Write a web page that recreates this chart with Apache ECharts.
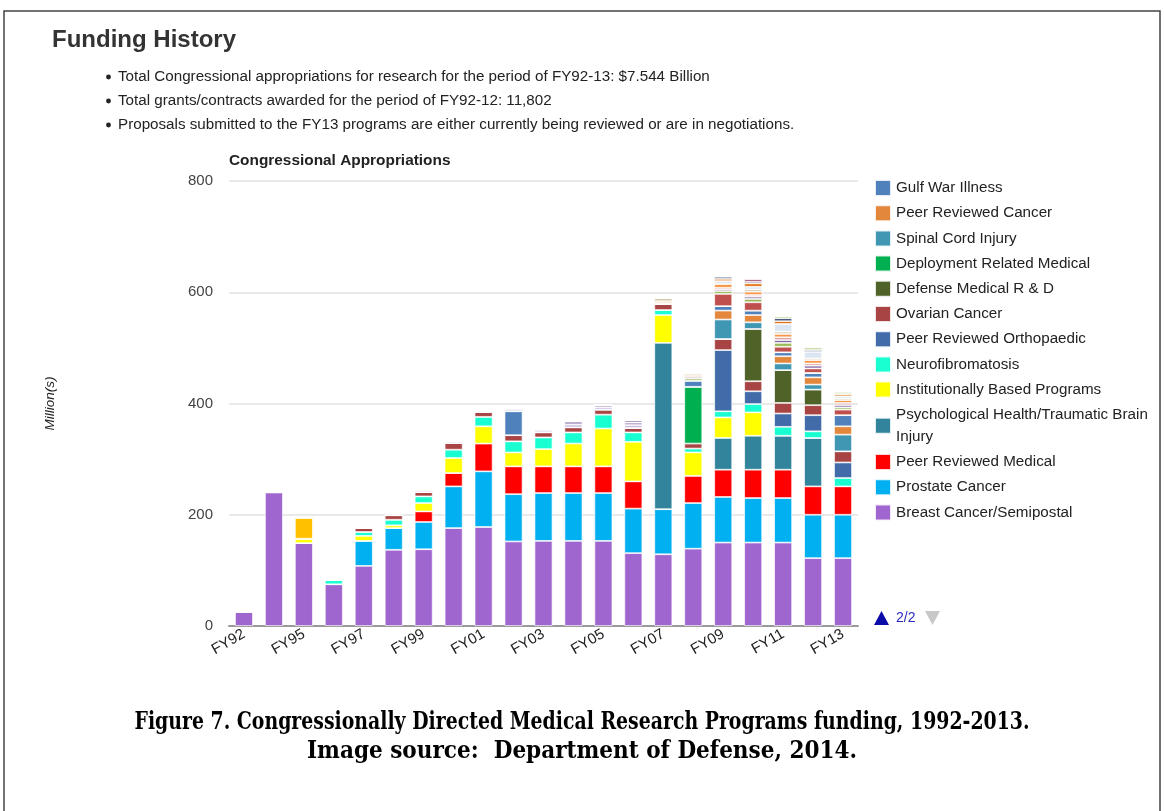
<!DOCTYPE html>
<html><head><meta charset="utf-8">
<script src="https://cdn.jsdelivr.net/npm/echarts@6.0.0/dist/echarts.min.js"></script>
<style>html,body{margin:0;padding:0;background:#fff}#c{width:1164px;height:811px}</style>
</head><body><div id="c"></div><script>
// ---- DATA ----
const categories = ['FY92','FY93','FY95','FY96','FY97','FY98','FY99','FY00','FY01','FY02','FY03','FY04','FY05','FY06','FY07','FY08','FY09','FY10','FY11','FY12','FY13'];
const yTicks = [0, 200, 400, 600, 800];
// stack order bottom -> top
const breastCancer   = [25,240,149,75,108,137,138,176,178,152,153,153,153,131,129,139,150,150,150,122,122];
const prostateCancer = [0,0,0,0,45,39,49,75,100,85,86,86,86,80,81,82,82,80,80,78,78];
const peerRevMedical = [0,0,0,0,0,0,19,24,50,50,48,48,48,49,0,49,49,51,51,51,51];
const psychHealthTBI = [0,0,0,0,0,0,0,0,0,0,0,0,0,0,299,0,57,61,61,87,0];
const instBased      = [0,0,8,0,9,5,15,27,31,25,31,41,68,71,50,42,37,42,0,0,0];
const neurofib       = [0,0,0,8,7,10,12,15,17,20,21,20,25,17,9,7,11,15,16,12,15];
const orthopaedic    = [0,0,0,0,0,0,0,0,0,0,0,0,0,0,0,0,110,23,24,29,28];
const ovarianCancer  = [0,0,0,0,7,8,8,12,9,11,9,9,9,8,11,9,20,18,19,18,20];
const defenseMedRD   = [0,0,0,0,0,0,0,0,0,0,0,0,0,0,0,0,0,94,59,28,0];
const deploymentMed  = [0,0,0,0,0,0,0,0,0,0,0,0,0,0,0,102,0,0,0,0,0];
const spinalCord     = [0,0,0,0,0,0,0,0,0,0,0,0,0,0,0,0,35,12,12,9,30];
const peerRevCancer  = [0,0,0,0,0,0,0,0,0,0,0,0,0,0,0,0,16,13,13,13,15];
const gulfWar        = [0,0,0,0,0,0,0,0,0,43,0,0,0,0,0,11,8,8,7,8,20];
// programs listed on legend page 1 (small slices at the top of the bars)
const womensHealth   = [0,0,37,0,0,0,0,0,0,0,0,0,0,0,0,0,0,0,0,0,0];
const cml            = [0,0,2,0,0,0,4,3,2,3,3,5,4,5,0,0,0,0,0,0,0];
const osteoporosis   = [0,0,0,0,0,0,0,0,0,3,3,6,4,5,0,0,0,0,0,0,0];
const lungCancer     = [0,0,0,0,0,0,0,0,0,0,0,0,0,0,0,0,22,15,10,8,10];
const autism         = [0,0,0,0,0,0,0,0,0,0,0,0,0,0,0,4,5,6,7,0,4];
const tuberous       = [0,0,0,0,0,0,0,0,0,0,0,0,0,4,0,3,3,4,5,5,4];
const als            = [0,0,0,0,0,0,0,0,0,0,0,0,0,0,2,0,3,3,5,4,4];
const boneMarrow     = [0,0,0,0,0,0,0,0,0,0,0,0,0,0,3,3,7,6,6,6,5];
const multScler      = [0,0,0,0,0,0,0,0,0,0,0,0,0,0,5,3,0,4,4,3,3];
const parkinsons     = [0,0,0,0,0,0,0,0,0,0,0,0,0,0,0,0,5,5,14,12,4];
const militaryBurn   = [0,0,0,0,0,0,0,0,0,0,0,0,0,0,2,0,4,6,5,0,4];
const vision         = [0,0,0,0,0,0,0,0,0,0,0,0,0,0,0,0,4,3,5,3,0];
const foodAllergies  = [0,0,0,0,0,0,0,0,0,0,0,0,0,0,0,0,0,0,4,5,4];
const substanceAbuse = [0,0,0,0,0,0,0,0,0,0,0,0,0,0,0,0,0,4,0,0,0];

const seriesNames = ['Breast Cancer/Semipostal','Prostate Cancer','Peer Reviewed Medical','Psychological Health/Traumatic Brain Injury','Institutionally Based Programs','Neurofibromatosis','Peer Reviewed Orthopaedic','Ovarian Cancer','Defense Medical R & D','Deployment Related Medical','Spinal Cord Injury','Peer Reviewed Cancer','Gulf War Illness',
  "Defense Women's Health",'Chronic Myelogenous Leukemia','Osteoporosis','Lung Cancer','Autism','Tuberous Sclerosis Complex','Amyotrophic Lateral Sclerosis','Bone Marrow Failure','Multiple Sclerosis',"Neurotoxin Exposure Treatment Parkinson's",'Military Burn','Vision','Genetic Studies of Food Allergies','Alcohol and Substance Abuse Disorders'];
const seriesValues = [breastCancer,prostateCancer,peerRevMedical,psychHealthTBI,instBased,neurofib,orthopaedic,ovarianCancer,defenseMedRD,deploymentMed,spinalCord,peerRevCancer,gulfWar,
  womensHealth,cml,osteoporosis,lungCancer,autism,tuberous,als,boneMarrow,multScler,parkinsons,militaryBurn,vision,foodAllergies,substanceAbuse];
const seriesColors = ['#a066cf','#00b0f0','#ff0000','#31849b','#ffff00','#1affd1','#416ca9','#a94444','#4f6228','#00b050','#3f97b4','#e2873c','#4f81bd',
  '#ffc000','#c3b6dd','#b1a0c7','#c0504d','#9bbb59','#8064a2','#d99694','#f79646','#c4bd97','#dce6f2','#e46c0a','#1f3864','#c3d69b','#8b1a4a'];
const pageTwoCount = 13;       // legend entries shown (page 2 of 2)
const pagerText = '2/2';
const captionLines = ['Figure 7. Congressionally Directed Medical Research Programs funding, 1992-2013.', 'Image source:  Department of Defense, 2014.'];

// ---- CHART ----
const F = '"Liberation Sans", Arial, sans-serif';
const CAP_FONT = 'bold 24px "DejaVu Serif", serif';
const CAP_WIDTHS = [895, 550];
const chart = echarts.init(document.getElementById('c'), null, {renderer: 'canvas'});
const legendNames = seriesNames.slice(0, pageTwoCount).reverse();
const series = seriesNames.map((n, i) => ({
  name: n, type: 'bar', stack: 'total', barWidth: 18,
  data: seriesValues[i],
  itemStyle: {color: seriesColors[i], borderColor: 'rgba(255,255,255,0.85)', borderWidth: 0.8},
  emphasis: {disabled: true}
}));
const bullets = [
  'Total Congressional appropriations for research for the period of FY92-13: $7.544 Billion',
  'Total grants/contracts awarded for the period of FY92-12: 11,802',
  'Proposals submitted to the FY13 programs are either currently being reviewed or are in negotiations.'
];
const mctx = document.createElement('canvas').getContext('2d');
mctx.font = CAP_FONT;
const graphics = [
  {type: 'rect', shape: {x: 4, y: 11, width: 1156, height: 900}, style: {fill: 'none', stroke: '#444', lineWidth: 1.5}, silent: true},
  {type: 'text', x: 52, y: 40, style: {text: 'Funding History', font: 'bold 24px ' + F, fill: '#333', verticalAlign: 'middle'}},
  // legend pager (page 2 of 2)
  {type: 'polygon', shape: {points: [[874, 625], [889, 625], [881.5, 611]]}, style: {fill: '#0b0ba8'}},
  {type: 'text', x: 896, y: 618, style: {text: pagerText, font: '14px ' + F, fill: '#2a2ac0', verticalAlign: 'middle'}},
  {type: 'polygon', shape: {points: [[925, 611], [940, 611], [932.5, 625]]}, style: {fill: '#c8c8c8'}}
];
captionLines.forEach((t, i) => {
  const w = mctx.measureText(t).width || CAP_WIDTHS[i];
  const y = 723 + i * 29;
  graphics.push({type: 'text', x: 582, y: y, originX: 0, originY: 0, scaleX: CAP_WIDTHS[i] / w,
    style: {text: t, font: CAP_FONT, fill: '#000', align: 'center', verticalAlign: 'middle'}});
});
bullets.forEach((b, i) => {
  const y = 77 + i * 24;
  graphics.push({type: 'circle', shape: {cx: 108.5, cy: y, r: 2.4}, style: {fill: '#222'}});
  graphics.push({type: 'text', x: 118, y: y, style: {text: b, font: '15.2px ' + F, fill: '#222', verticalAlign: 'middle'}});
});

chart.setOption({
  animation: false,
  backgroundColor: '#fff',
  title: {text: 'Congressional Appropriations', left: 229, top: 153, padding: 0, textStyle: {fontFamily: F, fontSize: 15.4, fontWeight: 'bold', color: '#222'}},
  grid: {left: 229, right: 306, top: 181, bottom: 185, containLabel: false},
  xAxis: {
    type: 'category', data: categories,
    axisLine: {lineStyle: {color: '#999', width: 2}},
    axisTick: {show: false},
    axisLabel: {interval: 1, rotate: 30, fontFamily: F, fontSize: 15, color: '#222', margin: 7}
  },
  yAxis: {
    type: 'value', min: yTicks[0], max: yTicks[yTicks.length - 1], interval: yTicks[1] - yTicks[0],
    name: 'Million(s)', nameLocation: 'middle', nameGap: 172, nameRotate: 90,
    nameTextStyle: {fontFamily: F, fontSize: 13.5, fontStyle: 'italic', color: '#222'},
    axisLine: {show: false}, axisTick: {show: false},
    axisLabel: {fontFamily: F, fontSize: 15, color: '#444', margin: 16},
    splitLine: {lineStyle: {color: '#e2e2e2', width: 1.5}}
  },
  legend: {
    orient: 'vertical', left: 874, top: 177, padding: 0,
    data: legendNames,
    icon: 'rect', itemWidth: 16, itemHeight: 16, itemGap: 3.2,
    textStyle: {fontFamily: F, fontSize: 15.2, color: '#222', lineHeight: 22, width: 262, overflow: 'break'},
    selectedMode: false
  },
  graphic: graphics,
  series: series
});
</script></body></html>
